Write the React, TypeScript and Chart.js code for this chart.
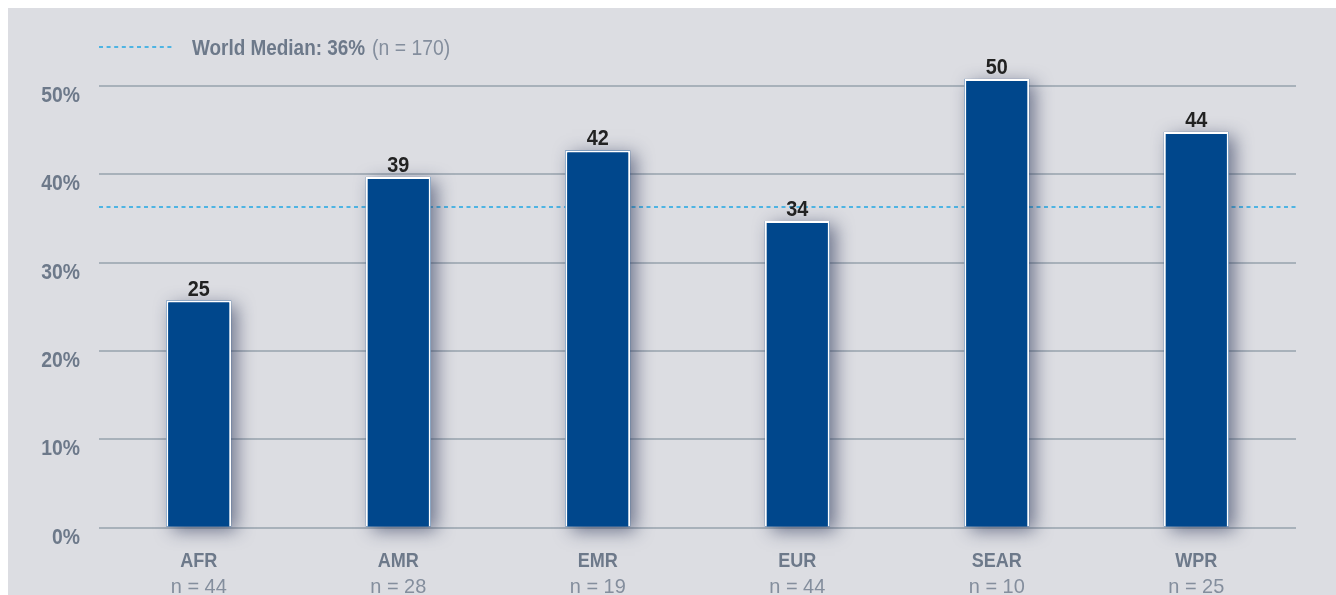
import React, { useEffect, useRef } from "react";
import { Chart, registerables } from "chart.js";

Chart.register(...registerables);

const categories = ["AFR", "AMR", "EMR", "EUR", "SEAR", "WPR"];
const sampleSizes = ["n = 44", "n = 28", "n = 19", "n = 44", "n = 10", "n = 25"];
const values = [25.7, 39.7, 42.7, 34.7, 50.8, 44.8];
const valueLabels = ["25", "39", "42", "34", "50", "44"];
const worldMedian = 36.3;
const legendMain = "World Median: 36%";
const legendSub = "(n = 170)";
const yTicks = [0, 10, 20, 30, 40, 50];

const FONT = "'Liberation Sans', Arial, sans-serif";
const SX = 0.87; // horizontal condensing of the text
const BAR_COLOR = "#00478c";
const GRID_COLOR = "#a8b1ba";
const TEXT_GRAY = "#6d798a";
const LIGHT_GRAY = "#848e9d";
const MEDIAN_COLOR = "#1fa7e3";
const BG = "#dcdde2";

function drawText(
  ctx: CanvasRenderingContext2D,
  text: string,
  x: number,
  y: number,
  font: string,
  color: string,
  align: CanvasTextAlign,
  baseline: CanvasTextBaseline,
  sx: number = SX
) {
  ctx.save();
  ctx.font = font;
  ctx.fillStyle = color;
  ctx.textAlign = align;
  ctx.textBaseline = baseline;
  ctx.translate(x, y);
  ctx.scale(sx, 1);
  ctx.fillText(text, 0, 0);
  const w = ctx.measureText(text).width * sx;
  ctx.restore();
  return w;
}

const overlayPlugin = {
  id: "overlay",
  beforeDatasetsDraw(chart: any) {
    const { ctx, chartArea, scales } = chart;
    const y = scales.y.getPixelForValue(worldMedian);
    ctx.save();
    ctx.strokeStyle = MEDIAN_COLOR;
    ctx.lineWidth = 1.6;
    ctx.setLineDash([4, 3.5]);
    ctx.beginPath();
    ctx.moveTo(chartArea.left, y);
    ctx.lineTo(chartArea.right, y);
    ctx.stroke();
    ctx.restore();

    // bar shadows
    const meta = chart.getDatasetMeta(0);
    ctx.save();
    ctx.shadowColor = "rgba(40, 50, 85, 0.62)";
    ctx.shadowBlur = 17;
    ctx.shadowOffsetX = 6;
    ctx.shadowOffsetY = 4;
    ctx.fillStyle = BAR_COLOR;
    meta.data.forEach((bar: any) => {
      const w = bar.width;
      ctx.fillRect(bar.x - w / 2, bar.y, w, bar.base - bar.y);
    });
    ctx.restore();
  },
  afterDatasetsDraw(chart: any) {
    const { ctx } = chart;
    const meta = chart.getDatasetMeta(0);
    meta.data.forEach((bar: any, i: number) => {
      drawText(ctx, valueLabels[i], bar.x, bar.y - 5, `bold 22px ${FONT}`, "#222222", "center", "alphabetic", 0.9);
    });
  },
  afterDraw(chart: any) {
    const { ctx, chartArea, scales } = chart;
    // y tick labels
    yTicks.forEach((v) => {
      const y = scales.y.getPixelForValue(v);
      drawText(ctx, `${v}%`, chartArea.left - 19, y + 16, `bold 22px ${FONT}`, TEXT_GRAY, "right", "alphabetic", 0.88);
    });
    // x labels
    categories.forEach((c, i) => {
      const x = scales.x.getPixelForValue(i);
      drawText(ctx, c, x, chartArea.bottom + 39, `bold 21px ${FONT}`, TEXT_GRAY, "center", "alphabetic", 0.86);
      drawText(ctx, sampleSizes[i], x, chartArea.bottom + 65, `21px ${FONT}`, LIGHT_GRAY, "center", "alphabetic", 0.95);
    });
    // legend
    const ly = 39;
    ctx.save();
    ctx.strokeStyle = MEDIAN_COLOR;
    ctx.lineWidth = 1.6;
    ctx.setLineDash([4, 3.6]);
    ctx.beginPath();
    ctx.moveTo(chartArea.left, ly);
    ctx.lineTo(chartArea.left + 76, ly);
    ctx.stroke();
    ctx.restore();
    const lx = chartArea.left + 93;
    const w = drawText(ctx, legendMain, lx, ly + 8, `bold 22px ${FONT}`, TEXT_GRAY, "left", "alphabetic", 0.86);
    drawText(ctx, legendSub, lx + w + 7, ly + 8, `22px ${FONT}`, LIGHT_GRAY, "left", "alphabetic", 0.88);
  },
};

export default function App() {
  const ref = useRef<HTMLCanvasElement | null>(null);
  useEffect(() => {
    if (!ref.current) return;
    const chart = new Chart(ref.current, {
      type: "bar",
      data: {
        labels: categories,
        datasets: [
          {
            data: values,
            backgroundColor: BAR_COLOR,
            borderColor: "#ffffff",
            borderWidth: 2,
            borderSkipped: "bottom",
            barPercentage: 0.325,
            categoryPercentage: 1,
            clip: false as any,
          },
        ],
      },
      options: {
        animation: false,
        responsive: true,
        maintainAspectRatio: false,
        layout: { padding: { left: 0, top: 78, right: 40, bottom: 0 } },
        plugins: { legend: { display: false }, tooltip: { enabled: false } },
        scales: {
          x: {
            grid: { display: false },
            border: { display: false },
            ticks: { display: false },
            afterFit: (s: any) => {
              s.height = 67.5;
            },
          },
          y: {
            min: 0,
            max: 50,
            afterBuildTicks: (s: any) => {
              s.ticks = yTicks.map((v) => ({ value: v }));
            },
            grid: { color: GRID_COLOR, lineWidth: 2, drawTicks: false },
            border: { display: false },
            ticks: { display: false },
            afterFit: (s: any) => {
              s.width = 91;
            },
          },
        },
      },
      plugins: [overlayPlugin],
    });
    return () => chart.destroy();
  }, []);
  return (
    <div
      style={{
        position: "fixed",
        left: 8,
        top: 8,
        width: 1328,
        height: 587,
        background: BG,
      }}
    >
      <canvas ref={ref} />
    </div>
  );
}
